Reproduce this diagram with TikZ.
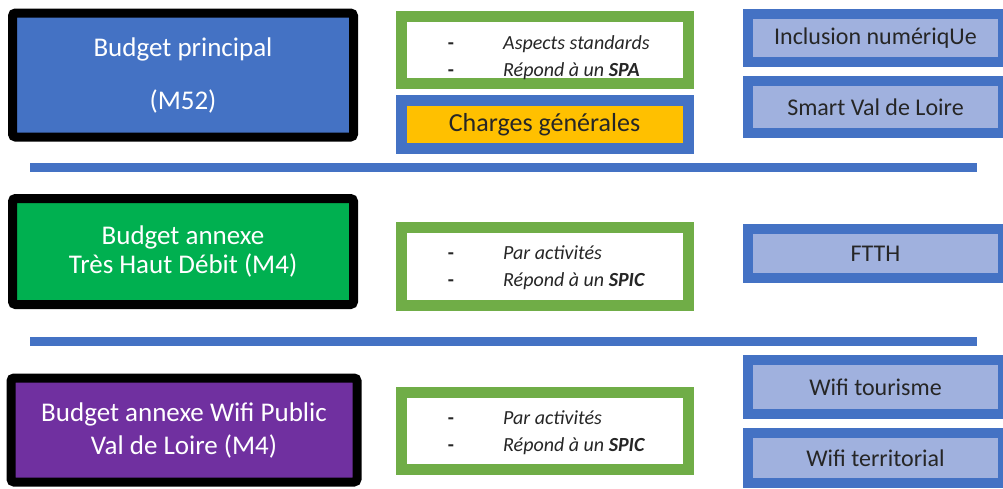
\documentclass[tikz,border=0pt]{standalone}
\usepackage{fontspec}
\setmainfont{Carlito}
\definecolor{offblue}{RGB}{68,114,196}
\definecolor{offgreen}{RGB}{112,173,71}
\definecolor{fillgreen}{RGB}{0,176,80}
\definecolor{fillpurple}{RGB}{112,48,160}
\definecolor{offorange}{RGB}{255,192,0}
\definecolor{lightblue}{RGB}{160,177,222}
\definecolor{txtdark}{RGB}{38,38,38}
\begin{document}
\begin{tikzpicture}[x=1pt,y=-1pt,
 budget/.style={draw=black, line width=9pt, rounded corners=3pt, text=white, align=center, inner sep=0pt},
 greenbox/.style={draw=offgreen, fill=white, line width=11pt, minimum width=287pt, inner sep=0pt},
 itemtxt/.style={anchor=base west, inner sep=0pt, font=\fontsize{20}{24}\selectfont\itshape, text=txtdark},
 dashtxt/.style={anchor=base, inner sep=0pt, font=\fontsize{20}{24}\selectfont\bfseries, text=txtdark},
 catbox/.style={draw=offblue, fill=lightblue, line width=10pt, minimum width=255pt, inner sep=0pt, text=txtdark, font=\fontsize{24}{28}\selectfont},
 sep/.style={draw=offblue, line width=9pt}
]
\useasboundingbox (0,0) rectangle (1003,488);

% left column
\node[budget, fill=offblue, minimum width=341pt, minimum height=124pt,
  font=\fontsize{27}{31}\selectfont] (bp) at (183,75) {Budget principal\\[22pt](M52)};
\node[budget, fill=fillgreen, minimum width=341pt, minimum height=106pt,
  font=\fontsize{27}{29}\selectfont] (thd) at (183,251.5) {Budget annexe\\Très Haut Débit (M4)};
\node[budget, fill=fillpurple, minimum width=346pt, minimum height=104pt,
  font=\fontsize{27}{33}\selectfont] (wifi) at (184,430) {Budget annexe Wifi Public\\Val de Loire (M4)};

% middle column
\node[greenbox, minimum height=67pt] (ga) at (544.5,50) {};
\node[dashtxt] (ga1d) at (451,49) {-};
\node[itemtxt] (ga1) at (503,49) {Aspects standards};
\node[dashtxt] (ga2d) at (451,76) {-};
\node[itemtxt] (ga2) at (503,76) {Répond à un \textbf{SPA}};

\node[draw=offblue, fill=offorange, line width=11pt, minimum width=287pt, minimum height=47.5pt,
  inner sep=0pt, font=\fontsize{26}{30}\selectfont, text=txtdark] (cg) at (544.5,124.5) {Charges générales};

\node[greenbox, minimum height=78pt] (gb) at (544.5,266.5) {};
\node[dashtxt] (gb1d) at (451,259) {-};
\node[itemtxt] (gb1) at (503,259) {Par activités};
\node[dashtxt] (gb2d) at (451,286) {-};
\node[itemtxt] (gb2) at (503,286) {Répond à un \textbf{SPIC}};

\node[greenbox, minimum height=77.5pt] (gc) at (544.5,431) {};
\node[dashtxt] (gc1d) at (451,424) {-};
\node[itemtxt] (gc1) at (503,424) {Par activités};
\node[dashtxt] (gc2d) at (451,451) {-};
\node[itemtxt] (gc2) at (503,451) {Répond à un \textbf{SPIC}};

% right column
\node[catbox, minimum height=48pt] (incl) at (875.5,38) {Inclusion numériqUe};
\node[catbox, minimum height=52pt] (smart) at (875.5,107) {Smart Val de Loire};
\node[catbox, minimum height=49pt] (ftth) at (875.5,253.5) {FTTH};
\node[catbox, minimum height=54pt] (wtour) at (875.5,387) {Wifi tourisme};
\node[catbox, minimum height=50pt] (wterr) at (875.5,458) {Wifi territorial};

% separators
\coordinate (s1a) at (30,167);
\coordinate (s1b) at (977,167);
\coordinate (s2a) at (30,341);
\coordinate (s2b) at (977,341);
\draw[sep] (s1a) -- (s1b);
\draw[sep] (s2a) -- (s2b);
\end{tikzpicture}
\end{document}
